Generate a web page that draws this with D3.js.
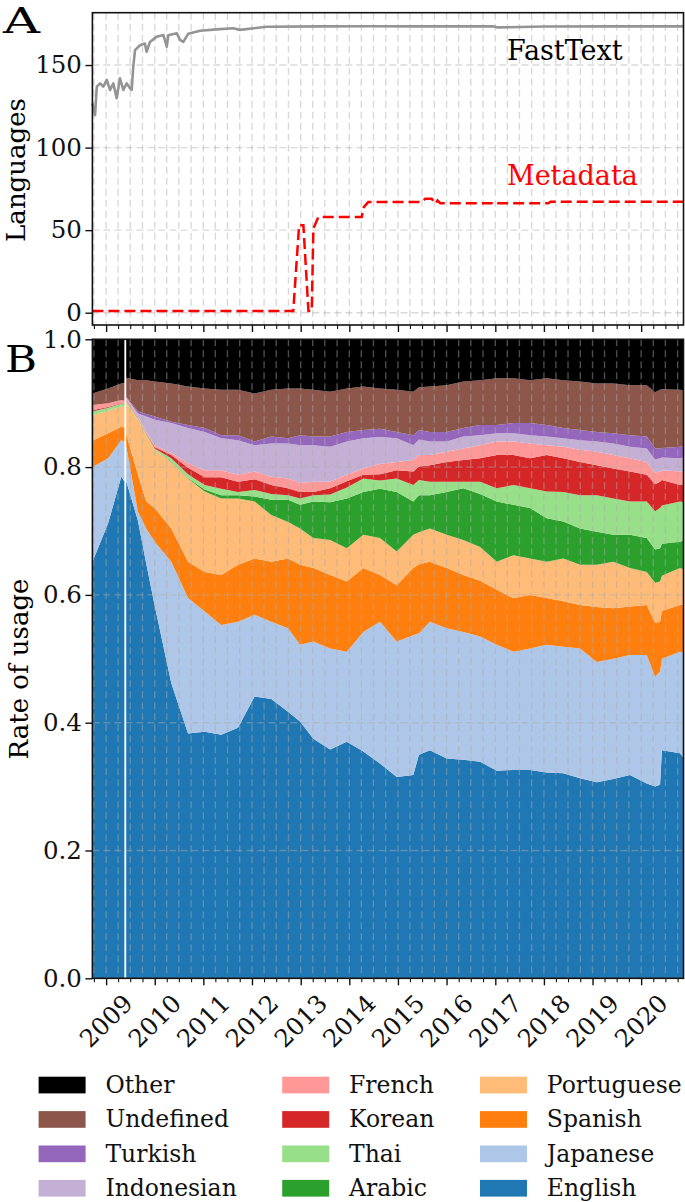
<!DOCTYPE html>
<html>
<head>
<meta charset="utf-8">
<script src="https://cdn.jsdelivr.net/npm/d3@7"></script>
<style>
body { margin: 0; background: #fff; }
svg { display: block; font-family: "DejaVu Serif", serif; }
</style>
</head>
<body>
<div id="chart"></div>
<script>
var parseDate = d3.timeParse("%Y-%m-%d");

// panel A: number of languages detected
var ftDates = ["2008-09-20","2008-10-10","2008-10-23","2008-11-17","2008-12-11","2009-01-06","2009-01-31","2009-02-24",
  "2009-03-21","2009-04-15","2009-05-10","2009-06-04","2009-06-29","2009-07-12","2009-07-24","2009-08-06","2009-09-12",
  "2009-10-19","2009-11-01","2009-11-26","2010-01-16","2010-03-07","2010-04-01","2010-04-13","2010-06-16","2010-07-10",
  "2010-08-04","2010-09-10","2010-12-07","2011-04-11","2011-08-13","2011-10-02","2012-04-20","2013-06-01","2014-06-01",
  "2015-06-01","2016-06-01","2016-12-20","2017-01-20","2018-01-01","2019-06-01","2020-11-14"];
var ftValues = [126.8,119.7,136.9,138.9,136.9,141,134.9,138.9,129.9,142,134.9,138.9,136,135,149,159,162,163,158,164,
  167.2,168.2,161.1,168,169.2,165.2,164,169,170.8,171.6,172.3,171.3,173.2,173.4,173.5,173.4,173.4,173.4,172.8,173.3,173.4,173.4];

var mdDates = ["2008-09-20","2012-11-06","2012-12-20","2013-01-21","2013-02-28","2013-03-25","2013-04-06","2013-05-14",
  "2014-04-04","2014-04-20","2014-05-23","2015-06-28","2015-07-25","2015-09-11","2015-10-10","2015-10-25","2015-11-15",
  "2016-12-05","2016-12-25","2017-01-15","2018-02-03","2018-02-20","2020-11-14"];
var mdValues = [1,1,53,53,1,1,51,58,58,64,67,67,69,69,66,68,66.3,66.3,65.5,66.3,66.3,67.2,67.2];

// panel B: rate of usage per language (null = missing week)
var dates = ["2008-09-20","2009-01-16","2009-04-25","2009-05-18","2009-05-25","2009-06-01","2009-08-28","2009-10-29",
  "2010-01-01","2010-05-05","2010-09-08","2011-01-11","2011-05-15","2011-09-18","2012-01-21","2012-05-25","2012-09-28",
  "2012-12-27","2013-04-06","2013-08-10","2013-12-13","2014-04-16","2014-08-19","2014-12-23","2015-04-26","2015-06-08",
  "2015-08-29","2016-01-02","2016-05-06","2016-09-09","2017-01-12","2017-05-17","2017-09-19","2018-01-22","2018-05-27",
  "2018-09-29","2019-02-02","2019-06-06","2019-10-09","2020-02-12","2020-04-15","2020-05-22","2020-06-05","2020-10-19","2020-11-14"];
var english = [.652,.712,.785,.778,null,.778,.716,.649,.583,.462,.383,.386,.381,.392,.441,.437,.417,.402,.375,.358,.370,.355,
  .336,.315,.318,.350,.357,.344,.342,.339,.325,.326,.326,.322,.321,.313,.307,.312,.318,.305,.300,.303,.357,.352,.345];
var japanese = [.149,.102,.057,.062,null,.055,.014,.055,.100,.190,.212,.188,.172,.166,.128,.121,.131,.120,.152,.158,.141,.187,
  .222,.212,.219,.190,.201,.204,.200,.196,.197,.185,.190,.200,.198,.203,.188,.188,.188,.201,.172,.177,.143,.159,.165];
var spanish = [.041,.039,.021,.022,null,.019,.058,.042,.053,.052,.057,.062,.078,.089,.088,.094,.109,.125,.115,.115,.110,.100,
  .073,.088,.105,.108,.094,.094,.089,.087,.086,.084,.084,.073,.071,.068,.086,.079,.076,.078,.084,.078,.075,.073,.075];
var portuguese = [.040,.035,.032,.032,null,.048,.086,.104,.091,.104,.130,.126,.120,.104,.089,.073,.057,.057,.047,.055,.052,.052,
  .058,.053,.052,.050,.052,.052,.055,.053,.044,.067,.057,.057,.067,.063,.066,.073,.060,.052,.063,.063,.055,.058,.055];
var arabic = [0,0,0,0,null,0,0,0,0,.001,.001,.003,.005,.005,.008,.024,.035,.037,.057,.059,.078,.067,
  .077,.093,.052,.058,.052,.067,.081,.083,.094,.079,.079,.068,.058,.057,.052,.042,.052,.053,.052,.052,.050,.041,.045];
var thai = [.006,.005,.004,.004,null,.003,.002,.002,.002,.005,.006,.007,.010,.005,.010,.009,.007,.010,.010,.012,.017,.021,
  .013,.021,.026,.024,.021,.016,.010,.019,.021,.031,.031,.042,.046,.052,.057,.057,.052,.057,.060,.063,.060,.063,.060];
var korean = [.002,.001,.001,.001,null,.001,.001,.001,.002,.005,.010,.012,.018,.016,.017,.014,.011,.010,.005,.010,.010,.006,
  .010,.013,.021,.021,.026,.031,.034,.037,.052,.047,.047,.057,.053,.052,.047,.047,.047,.042,.042,.041,.040,.026,.028];
var french = [.008,.006,.005,.005,null,.004,.002,.002,.003,.003,.007,.011,.011,.011,.012,.013,.015,.014,.016,.010,.010,.010,
  .016,.013,.018,.018,.016,.016,.018,.020,.021,.021,.023,.015,.018,.019,.021,.021,.021,.020,.018,.016,.015,.021,.020];
var indonesian = [0,0,0,0,null,.001,.005,.024,.040,.047,.055,.060,.050,.054,.041,.052,.055,.059,.057,.055,.052,.047,
  .042,.037,.023,.024,.021,.016,.019,.016,.013,.013,.013,.014,.013,.015,.016,.018,.018,.021,.021,.021,.020,.021,.022];
var turkish = [0,0,0,0,null,.001,.003,.004,.005,.002,.005,.006,.005,.008,.006,.011,.008,.016,.014,.016,.015,.013,
  .013,.010,.016,.015,.015,.015,.013,.016,.013,.016,.019,.018,.016,.016,.015,.016,.018,.019,.017,.015,.015,.018,.018];
var undefinedLang = [.018,.023,.026,.028,null,.030,.049,.053,.055,.060,.060,.062,.071,.071,.075,.073,.078,.073,.073,.070,.068,.068,
  .063,.066,.068,.067,.071,.073,.073,.070,.073,.070,.067,.073,.075,.076,.076,.078,.078,.080,.088,.092,.092,.089,.087];
var other = [.085,.077,.069,.068,null,.060,.064,.064,.066,.069,.074,.077,.079,.079,.085,.079,.077,.077,.079,.082,.077,.074,
  .077,.079,.082,.075,.074,.072,.066,.064,.061,.061,.064,.061,.064,.066,.069,.069,.072,.072,.083,.079,.078,.079,.080];

var languages = ["English","Japanese","Spanish","Portuguese","Arabic","Thai","Korean","French","Indonesian","Turkish","Undefined","Other"];
var shares = [english, japanese, spanish, portuguese, arabic, thai, korean, french, indonesian, turkish, undefinedLang, other];
var colors = ["#1f77b4","#aec7e8","#ff7f0e","#ffbb78","#2ca02c","#98df8a","#d62728","#ff9896","#c5b0d5","#9467bd","#8c564b","#000000"];

var yTicksA = [0, 50, 100, 150];
var yTicksB = [0, 0.2, 0.4, 0.6, 0.8, 1.0];

var width = 685, height = 1202;
var left = 92.4, right = 683.5;
var topA = 12.7, botA = 325;
var topB = 339.3, botB = 978.3;
var gridColor = "rgba(170,170,170,0.45)";

var svg = d3.select("#chart").append("svg")
  .attr("width", width)
  .attr("height", height);

var x = d3.scaleTime()
  .domain([parseDate(dates[0]), parseDate(dates[dates.length - 1])])
  .range([left, right]);
var yA = d3.scaleLinear().domain([-7.45, 181.7]).range([botA, topA]);
var yB = d3.scaleLinear().domain([0, 1]).range([botB, topB]);

var quarters = d3.timeMonth.every(3).range(x.domain()[0], x.domain()[1]);
var years = d3.timeYear.range(new Date(2009, 0, 1), x.domain()[1]);
var minors = quarters.filter(function(d) { return d.getMonth() != 0; });

function drawGrid(g, yScale, yTicks, y0, y1) {
  g.selectAll(".vgrid").data(quarters).enter().append("line")
    .attr("x1", function(d) { return x(d); })
    .attr("x2", function(d) { return x(d); })
    .attr("y1", y1).attr("y2", y0)
    .style("stroke", gridColor)
    .style("stroke-width", 1.4)
    .style("stroke-dasharray", "7,4");
  g.selectAll(".hgrid").data(yTicks).enter().append("line")
    .attr("x1", left).attr("x2", right)
    .attr("y1", function(d) { return yScale(d); })
    .attr("y2", function(d) { return yScale(d); })
    .style("stroke", gridColor)
    .style("stroke-width", 1.4)
    .style("stroke-dasharray", "7,4");
}

function drawAxes(yScale, yTicks, y0, y1, fmt) {
  var yAxis = svg.append("g")
    .attr("transform", "translate(" + left + ",0)")
    .call(d3.axisLeft(yScale).tickValues(yTicks).tickSize(7).tickPadding(3.5).tickFormat(fmt));
  yAxis.select(".domain").remove();
  yAxis.selectAll("text").attr("font-family", "DejaVu Serif").attr("font-size", 24.5).attr("fill", "#111");
  yAxis.selectAll("line").style("stroke", "#111").style("stroke-width", 1.4);

  var major = svg.append("g")
    .attr("transform", "translate(0," + y0 + ")")
    .call(d3.axisBottom(x).tickValues(years).tickSize(7).tickFormat(""));
  major.select(".domain").remove();
  major.selectAll("line").style("stroke", "#111").style("stroke-width", 1.4);

  var minor = svg.append("g")
    .attr("transform", "translate(0," + y0 + ")")
    .call(d3.axisBottom(x).tickValues(minors).tickSize(4).tickFormat(""));
  minor.select(".domain").remove();
  minor.selectAll("line").style("stroke", "#111").style("stroke-width", 1.1);

  svg.append("rect")
    .attr("x", left).attr("y", y1)
    .attr("width", right - left).attr("height", y0 - y1)
    .style("fill", "none")
    .style("stroke", "#111")
    .style("stroke-width", 1.6);
}

// ---- panel A
var gA = svg.append("g");
drawGrid(gA, yA, yTicksA, botA, topA);

var lineA = d3.line()
  .x(function(d) { return x(d.date); })
  .y(function(d) { return yA(d.value); });

var ftData = ftDates.map(function(d, i) { return {date: parseDate(d), value: ftValues[i]}; });
var mdData = mdDates.map(function(d, i) { return {date: parseDate(d), value: mdValues[i]}; });

gA.append("path")
  .datum(ftData)
  .attr("d", lineA)
  .style("fill", "none")
  .style("stroke", "#949494")
  .style("stroke-width", 2.6)
  .style("stroke-linejoin", "round");

gA.append("path")
  .datum(mdData)
  .attr("d", lineA)
  .style("fill", "none")
  .style("stroke", "#ff0000")
  .style("stroke-width", 2.5)
  .style("stroke-dasharray", "11,5");

gA.append("text")
  .attr("x", 507).attr("y", 60)
  .attr("font-size", 27)
  .attr("fill", "#000")
  .text("FastText");
gA.append("text")
  .attr("x", 507).attr("y", 185)
  .attr("font-size", 27)
  .attr("fill", "#ff0000")
  .text("Metadata");

drawAxes(yA, yTicksA, botA, topA, d3.format("d"));

// ---- panel B
var rows = dates.map(function(d, i) {
  var row = {date: parseDate(d), gap: english[i] === null};
  languages.forEach(function(lang, k) { row[lang] = shares[k][i] || 0; });
  return row;
});

var series = d3.stack().keys(languages).offset(d3.stackOffsetExpand)(rows);

svg.append("clipPath").attr("id", "clipB")
  .append("rect")
  .attr("x", left).attr("y", topB)
  .attr("width", right - left).attr("height", botB - topB);

var area = d3.area()
  .defined(function(d) { return !d.data.gap; })
  .x(function(d) { return x(d.data.date); })
  .y0(function(d) { return yB(d[0]); })
  .y1(function(d) { return yB(d[1]); });

var gB = svg.append("g").attr("clip-path", "url(#clipB)");
gB.selectAll(".layer").data(series).enter().append("path")
  .attr("class", "layer")
  .attr("d", area)
  .style("fill", function(d, i) { return colors[i]; });

drawGrid(gB, yB, yTicksB, botB, topB);
drawAxes(yB, yTicksB, botB, topB, d3.format(".1f"));

svg.selectAll(".yearlabel").data(years).enter().append("text")
  .attr("transform", function(d) { return "translate(" + x(d) + ",1021) rotate(-45)"; })
  .attr("text-anchor", "middle")
  .attr("dominant-baseline", "central")
  .attr("font-size", 24.5)
  .attr("fill", "#111")
  .text(function(d) { return d.getFullYear(); });

// axis titles and panel letters
svg.append("text")
  .attr("transform", "translate(25,170) rotate(-90)")
  .attr("text-anchor", "middle")
  .attr("font-size", 26)
  .text("Languages");
svg.append("text")
  .attr("transform", "translate(28,669) rotate(-90)")
  .attr("text-anchor", "middle")
  .attr("font-size", 26)
  .text("Rate of usage");
svg.append("text").attr("x", 3).attr("y", 33).attr("font-size", 36)
  .attr("textLength", 37).attr("lengthAdjust", "spacingAndGlyphs").text("A");
svg.append("text").attr("x", 5).attr("y", 372).attr("font-size", 37)
  .attr("textLength", 32).attr("lengthAdjust", "spacingAndGlyphs").text("B");

// legend, top layer first, filled column by column
var legendItems = languages.map(function(l, i) { return {name: l, color: colors[i]}; }).reverse();
var colX = [38.6, 282.2, 480];
var legend = svg.append("g");
legendItems.forEach(function(item, i) {
  var cx = colX[Math.floor(i / 4)];
  var cy = 1085 + (i % 4) * 34.4;
  legend.append("rect")
    .attr("x", cx).attr("y", cy - 8.3)
    .attr("width", 47).attr("height", 16.7)
    .style("fill", item.color);
  legend.append("text")
    .attr("x", cx + 66.8).attr("y", cy)
    .attr("dominant-baseline", "central")
    .attr("font-size", 23.5)
    .attr("fill", "#111")
    .text(item.name);
});
</script>
</body>
</html>
